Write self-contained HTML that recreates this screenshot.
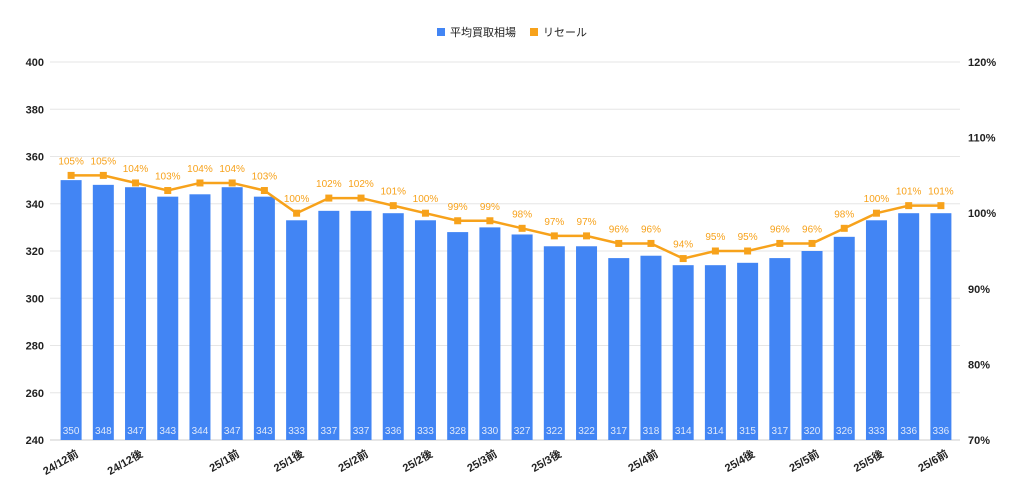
<!DOCTYPE html>
<html><head><meta charset="utf-8"><style>
body{margin:0;background:#fff;font-family:"Liberation Sans","Noto Sans CJK JP",sans-serif}
svg text{font-family:"Liberation Sans","Noto Sans CJK JP",sans-serif}
</style></head><body>
<svg id="c" width="1024" height="496" xmlns="http://www.w3.org/2000/svg">
<g>
<rect x="437" y="28" width="8" height="8" fill="#4285f4"/>
<text x="450" y="36" font-size="11" fill="#222">平均買取相場</text>
<rect x="530" y="28" width="8" height="8" fill="#f7a21b"/>
<text x="543" y="36" font-size="11" fill="#222">リセール</text>
</g>
<g id="grid"></g><g id="bars"></g><g id="line"></g><g id="labels"></g>
</svg>
<script>
const categories=["24/12前","","24/12後","","","25/1前","","25/1後","","25/2前","","25/2後","","25/3前","","25/3後","","","25/4前","","","25/4後","","25/5前","","25/5後","","25/6前"];
const prices=[350,348,347,343,344,347,343,333,337,337,336,333,328,330,327,322,322,317,318,314,314,315,317,320,326,333,336,336];
const resale=[105,105,104,103,104,104,103,100,102,102,101,100,99,99,98,97,97,96,96,94,95,95,96,96,98,100,101,101];
const leftTicks=[240,260,280,300,320,340,360,380,400];
const rightTicks=[70,80,90,100,110,120];
const NS="http://www.w3.org/2000/svg";
const X0=55,X1=957,YT=62,YB=440;
const yL=v=>YB-(v-240)/160*(YB-YT);
const yR=v=>YB-(v-70)/50*(YB-YT);
const step=(X1-X0)/prices.length;
const xC=i=>X0+step*(i+0.5);
function mk(t,a,p,txt){const e=document.createElementNS(NS,t);for(const k in a)e.setAttribute(k,a[k]);if(txt!==undefined)e.textContent=txt;p.appendChild(e);return e;}
const grid=document.getElementById('grid'),bars=document.getElementById('bars'),line=document.getElementById('line'),labels=document.getElementById('labels');
leftTicks.forEach(v=>{
 const l=mk('line',{x1:50,x2:960,y1:yL(v),y2:yL(v),stroke:v==240?'#ccc':'#e6e6e6','stroke-width':1},grid);
 
 
 const t=mk('text',{x:44,y:yL(v)+4,'text-anchor':'end','font-size':11,'font-weight':'bold',fill:'#222'},grid,String(v));
 
 
});
rightTicks.forEach(v=>{
 const t=mk('text',{x:968,y:yR(v)+4,'font-size':11,'font-weight':'bold',fill:'#222'},grid,v+'%');
 
 
});
const bw=21;
prices.forEach((v,i)=>{
 const r=mk('rect',{x:xC(i)-bw/2,y:yL(v),width:bw,height:YB-yL(v),fill:'#4285f4'},bars);
 
 
 const t=mk('text',{x:xC(i),y:YB-6,'text-anchor':'middle','font-size':10,fill:'#dfe9fb'},bars,String(v));
 
 
});
const pts=resale.map((v,i)=>xC(i)+','+yR(v)).join(' ');
const pl=mk('polyline',{points:pts,fill:'none',stroke:'#f7a21b','stroke-width':2.5},line);


resale.forEach((v,i)=>{
 const m=mk('rect',{x:xC(i)-3.5,y:yR(v)-3.5,width:7,height:7,fill:'#f7a21b'},line);
 
 
 const t=mk('text',{x:xC(i),y:yR(v)-11,'text-anchor':'middle','font-size':10,fill:'#f7a21b'},line,v+'%');
 
 
});
categories.forEach((c,i)=>{
 if(!c)return;
 const x=xC(i)+8,y=YB+16;
 const t=mk('text',{x:x,y:y,'text-anchor':'end','font-size':11,'font-weight':'bold',fill:'#222',transform:`rotate(-30 ${x} ${y})`},labels,c);
 
 
});
</script>
</body></html>
